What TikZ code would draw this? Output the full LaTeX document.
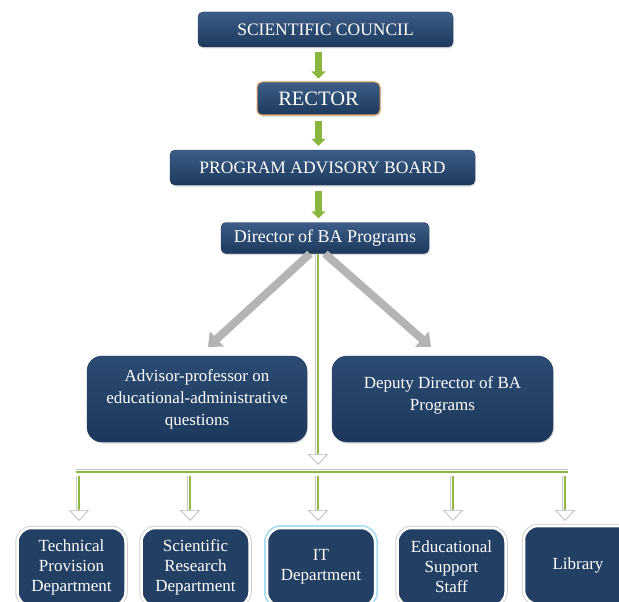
\documentclass[tikz,border=0pt]{standalone}
\usepackage{fontspec}
\setmainfont{Liberation Serif}
\usetikzlibrary{arrows.meta,shadows,calc}
\definecolor{navyT}{HTML}{3D5E88}
\definecolor{navyB}{HTML}{1D385C}
\definecolor{navyM}{HTML}{2C4B72}
\definecolor{navy}{HTML}{233F63}
\definecolor{glinec}{HTML}{8DB843}
\definecolor{garrowc}{HTML}{8AB53E}
\definecolor{grarr}{HTML}{B4B4B4}
\definecolor{rectorline}{HTML}{E2A062}
\definecolor{itglow}{HTML}{A9DDF0}
\begin{document}
\begin{tikzpicture}[x=1pt,y=-1pt,
  topbox/.style={rounded corners=5pt, top color=navyT, bottom color=navyB, draw=navyB, line width=0.4pt,
    text=white, inner sep=0pt, drop shadow={opacity=0.3,shadow xshift=1pt,shadow yshift=-1.5pt}},
  midbox/.style={rounded corners=15pt, top color=navyM, bottom color=navyB, draw=navyB, line width=0.4pt,
    text=white, inner sep=0pt, align=center, font=\fontsize{17}{22}\selectfont,
    drop shadow={opacity=0.3,shadow xshift=1pt,shadow yshift=-1.5pt}},
  botbox/.style={rounded corners=14pt, fill=navy, draw=white, line width=2.5pt,
    preaction={draw=black!18, line width=4.5pt},
    text=white, inner sep=0pt, align=center, text width=108pt, font=\fontsize{17}{20}\selectfont,
    minimum height=78pt},
  garrow/.style={draw=garrowc, line width=6.5pt, -{Triangle[width=14pt,length=7pt]}},
  grayarrow/.style={draw=grarr, line width=8pt, -{Triangle[width=20pt,length=12pt]}},
  gouter/.style={draw=black!22, double=white, double distance=5pt, line width=0.6pt},
  ginner/.style={draw=glinec, line width=2.6pt},
  gtip/.style={draw=black!28, line width=0.7pt, -{Triangle[width=20pt,length=11pt,fill=white]}}
]
\useasboundingbox (0,0) rectangle (619,602);

% top chain
\node[topbox, minimum width=255pt, minimum height=35pt, font=\fontsize{17.5}{20}\selectfont] (sc) at (325.5,29.5) {SCIENTIFIC COUNCIL};
\node[topbox, draw=rectorline, line width=1pt, minimum width=123pt, minimum height=33pt, font=\fontsize{20.5}{22}\selectfont] (rector) at (318.5,98.5) {RECTOR};
\node[topbox, minimum width=305pt, minimum height=35pt, font=\fontsize{17.5}{20}\selectfont] (pab) at (322.5,167.5) {PROGRAM ADVISORY BOARD};
\node[topbox, minimum width=208pt, minimum height=31pt, font=\fontsize{18}{20}\selectfont] (dir) at (325,238) {Director of BA Programs};

% middle boxes
\node[midbox, minimum width=220pt, minimum height=86pt] (adv) at (197,399) {Advisor-professor on\\educational-administrative\\questions};
\node[midbox, minimum width=221pt, minimum height=86pt] (dep) at (442.5,399) {Deputy Director of BA\\Programs\\[-12pt]};

% bottom boxes
\node[botbox] (tech) at (71.5,567) {Technical\\Provision\\Department};
\node[botbox] (sres) at (195.5,567) {Scientific\\Research\\Department};
\node[botbox, preaction={draw=itglow, line width=6pt}] (itd) at (321,567) {IT\\Department};
\node[botbox] (edu) at (451.5,567) {Educational\\Support\\Staff};
\node[botbox] (lib) at (578,565) {Library};

% green block arrows
\draw[garrow] ([yshift=-5pt]rector.north |- sc.south) -- ([yshift=3pt]rector.north);
\draw[garrow] ([yshift=-5pt]rector.south) -- ([yshift=4pt]rector.south |- pab.north);
\draw[garrow] ([yshift=-6pt]rector.south |- pab.south) -- ([yshift=4pt]rector.south |- dir.north);

% grey arrows
\coordinate (lsrc) at ([xshift=-15pt]dir.south);
\coordinate (rsrc) at ([xshift=0pt]dir.south);
\coordinate (ltip) at (208,347);
\coordinate (rtip) at (431,347);
\draw[grayarrow] (lsrc) -- (ltip);
\draw[grayarrow] (rsrc) -- (rtip);

% green connector from director
\coordinate (dsrc) at (318,253.5);
\coordinate (dtip) at (318,465);
\draw[gouter, shorten >=10pt] (dsrc) -- (dtip);
\draw[ginner, shorten >=10pt] (dsrc) -- (dtip);
\draw[gtip] ($(dtip)+(0,-12)$) -- (dtip);

% horizontal bar
\coordinate (hbl) at (76,472);
\coordinate (hbr) at (568,472);
\draw[gouter] (hbl) -- (hbr);
\draw[ginner] (hbl) -- (hbr);

% down arrows
\foreach \i/\x in {1/79,2/190,3/318,4/453,5/565}{
  \coordinate (s\i) at (\x,476);
  \coordinate (t\i) at (\x,521);
  \draw[gouter, shorten >=10pt] (s\i) -- (t\i);
  \draw[ginner, shorten >=10pt] (s\i) -- (t\i);
  \draw[gtip] ($(t\i)+(0,-12)$) -- (t\i);
}
\end{tikzpicture}
\end{document}
